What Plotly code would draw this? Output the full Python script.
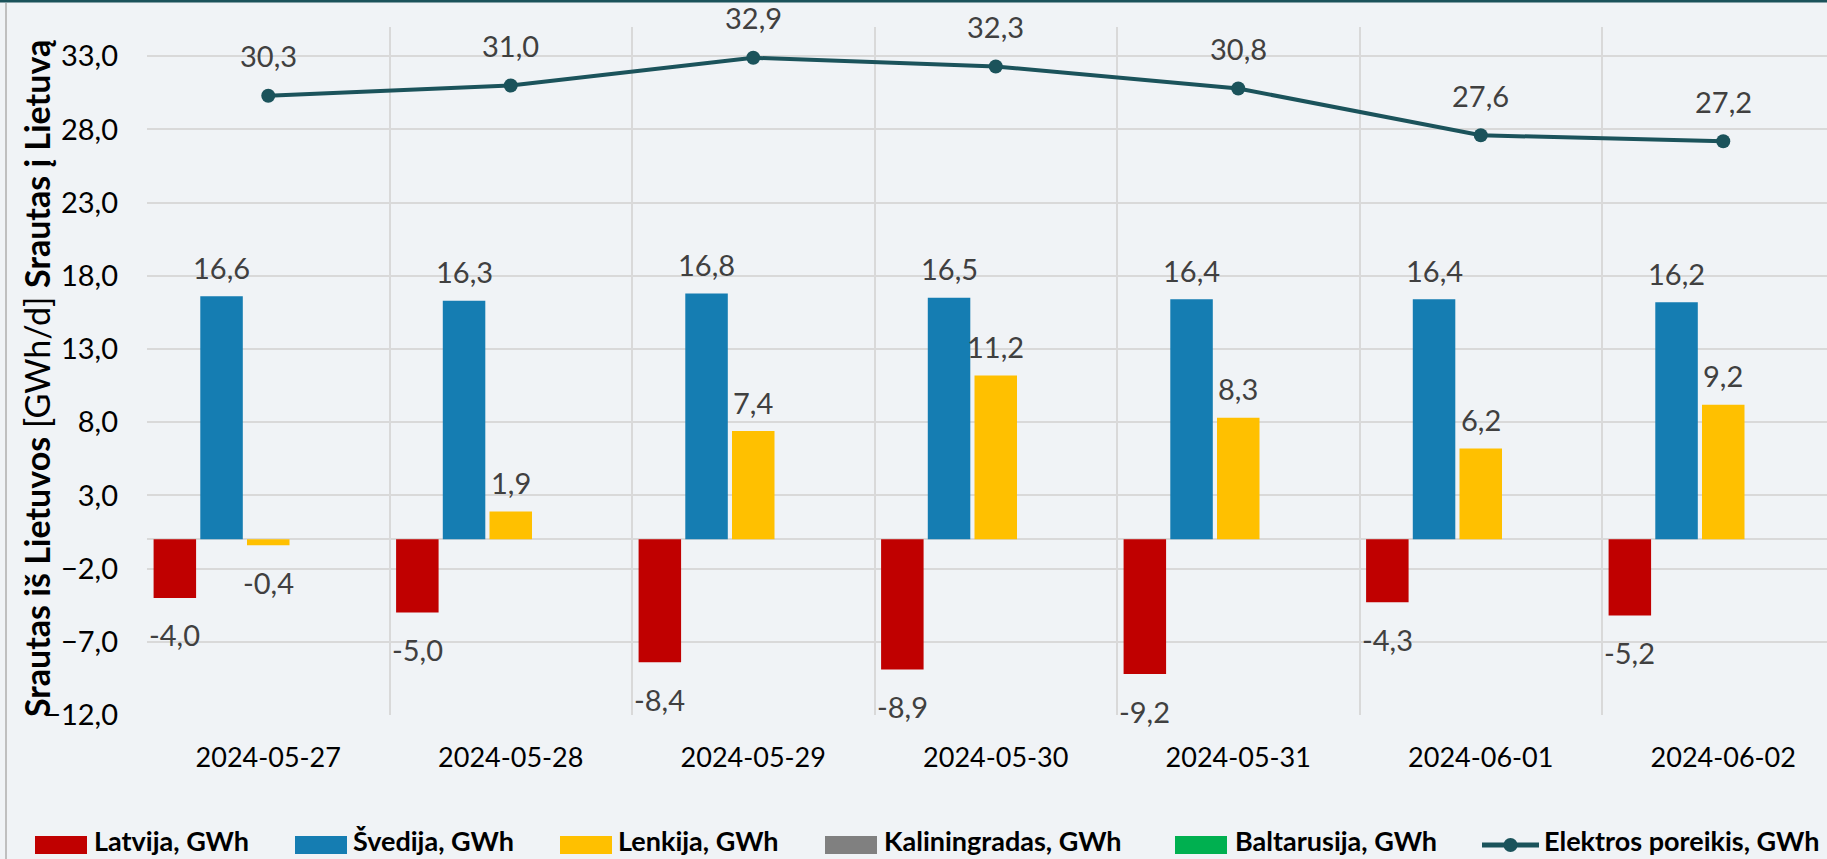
import plotly.graph_objects as go

# ---------------- data ----------------
dates = ["2024-05-27", "2024-05-28", "2024-05-29", "2024-05-30",
         "2024-05-31", "2024-06-01", "2024-06-02"]
latvija = [-4.0, -5.0, -8.4, -8.9, -9.2, -4.3, -5.2]
svedija = [16.6, 16.3, 16.8, 16.5, 16.4, 16.4, 16.2]
lenkija = [-0.4, 1.9, 7.4, 11.2, 8.3, 6.2, 9.2]
kaliningradas = [0, 0, 0, 0, 0, 0, 0]
baltarusija = [0, 0, 0, 0, 0, 0, 0]
poreikis = [30.3, 31.0, 32.9, 32.3, 30.8, 27.6, 27.2]
y_ticks = [-12, -7, -2, 3, 8, 13, 18, 23, 28, 33]

bar_names = ["Latvija, GWh", "Švedija, GWh", "Lenkija, GWh",
             "Kaliningradas, GWh", "Baltarusija, GWh"]
line_name = "Elektros poreikis, GWh"
y_title = "<b>Srautas iš Lietuvos</b> [GWh/d] <b>Srautas į Lietuvą</b>"

# ---------------- style ----------------
bar_colors = ["#C00000", "#157DB2", "#FFC000", "#808080", "#00B050"]
line_color = "#1B535B"
bg = "#F0F3F6"
grid = "#D9D9D9"
FONT = "Lato"

W, H = 1827, 859
L, T, B, R = 147, 27, 144, 0
PW, PH = W - L - R, H - T - B
BARGAP, GROUPGAP = 0.037, 0.09


def px_x(p):
    return (p - L) / PW


def px_y(p):
    return (H - B - p) / PH


fig = go.Figure()
series = [latvija, svedija, lenkija, kaliningradas, baltarusija]
for name, vals, col in zip(bar_names, series, bar_colors):
    fig.add_trace(go.Bar(x=dates, y=vals, name=name, marker_color=col,
                         marker_line_width=0, showlegend=False,
                         hoverinfo="x+y+name"))

fig.add_trace(go.Scatter(x=dates, y=poreikis, name=line_name,
                         mode="lines+markers",
                         line=dict(color=line_color, width=4),
                         marker=dict(color=line_color, size=14),
                         showlegend=False))

annotations = []
slot = (1 - BARGAP) / len(bar_names)
for k, vals in enumerate(series):
    for i, v in enumerate(vals):
        if v == 0:
            continue
        annotations.append(dict(
            x=i + (k - 2) * slot, y=v, xref="x", yref="y",
            text=f"{v:.1f}".replace(".", ","), showarrow=False,
            xanchor="center", yanchor="middle",
            yshift=29 if v > 0 else -37,
            font=dict(family=FONT, size=29, color="#404040")))
for i, v in enumerate(poreikis):
    annotations.append(dict(
        x=i, y=v, xref="x", yref="y",
        text=f"{v:.1f}".replace(".", ","), showarrow=False,
        xanchor="center", yanchor="middle", yshift=40,
        font=dict(family=FONT, size=29, color="#404040")))

# y-axis title
annotations.append(dict(
    x=px_x(36), y=px_y(378), xref="paper", yref="paper", text=y_title,
    textangle=-90, showarrow=False, xanchor="center", yanchor="middle",
    font=dict(family=FONT, size=34, color="#000000")))

# custom legend
shapes = []
sw_x = [35, 295, 560, 825, 1175]
tx_x = [92, 351, 616, 882, 1233]
leg_y0, leg_y1 = 836, 854
leg_cy = 845
leg_ty = 840
for name, col, x0, tx in zip(bar_names, bar_colors, sw_x, tx_x):
    shapes.append(dict(type="rect", xref="paper", yref="paper",
                       x0=px_x(x0), x1=px_x(x0 + 52),
                       y0=px_y(leg_y1), y1=px_y(leg_y0),
                       fillcolor=col, line_width=0))
    annotations.append(dict(x=px_x(tx), y=px_y(leg_ty), xref="paper",
                            yref="paper", text=f"<b>{name}</b>",
                            showarrow=False, xanchor="left", yanchor="middle",
                            font=dict(family=FONT, size=27, color="#000000")))
shapes.append(dict(type="line", xref="paper", yref="paper",
                   x0=px_x(1482), x1=px_x(1539), y0=px_y(leg_cy), y1=px_y(leg_cy),
                   line=dict(color=line_color, width=5)))
shapes.append(dict(type="circle", xref="paper", yref="paper",
                   x0=px_x(1503.5), x1=px_x(1517.5),
                   y0=px_y(leg_cy + 7), y1=px_y(leg_cy - 7),
                   fillcolor=line_color, line_width=0))
annotations.append(dict(x=px_x(1542), y=px_y(leg_ty), xref="paper",
                        yref="paper", text=f"<b>{line_name}</b>",
                        showarrow=False, xanchor="left", yanchor="middle",
                        font=dict(family=FONT, size=27, color="#000000")))

# frame: top teal line, left grey border
shapes.append(dict(type="line", xref="paper", yref="paper",
                   x0=px_x(0), x1=px_x(W), y0=px_y(1), y1=px_y(1),
                   line=dict(color="#1B535B", width=3)))
shapes.append(dict(type="line", xref="paper", yref="paper",
                   x0=px_x(6), x1=px_x(6), y0=px_y(3), y1=px_y(H),
                   line=dict(color="#BFBFBF", width=2)))

fig.update_layout(
    width=W, height=H,
    margin=dict(l=L, r=R, t=T, b=B, autoexpand=False),
    paper_bgcolor=bg, plot_bgcolor=bg,
    barmode="group", bargap=BARGAP, bargroupgap=GROUPGAP,
    separators=", ",
    font=dict(family=FONT, size=27, color="#000000"),
    showlegend=False,
    annotations=annotations, shapes=shapes,
    xaxis=dict(type="category", categoryorder="array", categoryarray=dates,
               range=[-0.5, -0.5 + PW / 242.5], tickson="boundaries",
               showgrid=True, gridcolor=grid, gridwidth=2,
               ticks="", showline=False, zeroline=False,
               ticklabelstandoff=24,
               tickfont=dict(family=FONT, size=27, color="#000000")),
    yaxis=dict(range=[-12, 35], tickvals=y_ticks, tickformat=".1f",
               showgrid=True, gridcolor=grid, gridwidth=2,
               zeroline=True, zerolinecolor=grid, zerolinewidth=2,
               ticks="", showline=False, ticklabelstandoff=28,
               tickfont=dict(family=FONT, size=29, color="#000000")),
)

fig.write_html("out.html",
               config={"displayModeBar": False},
               post_script="document.body.style.margin='0px';"
                           "document.body.style.overflow='hidden';")
